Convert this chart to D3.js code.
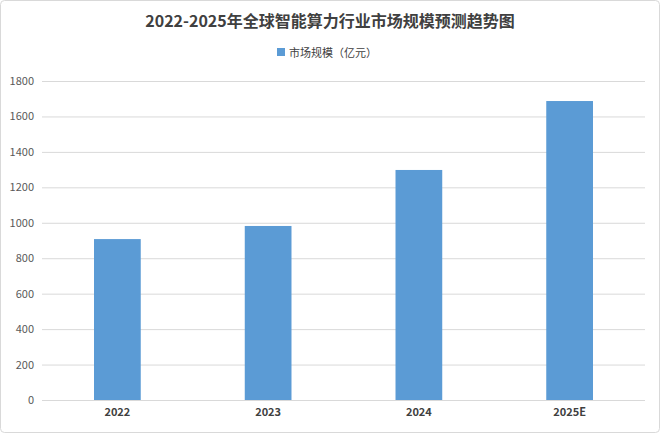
<!DOCTYPE html>
<html><head><meta charset="utf-8">
<script src="https://cdn.jsdelivr.net/npm/d3@7"></script>
<style>body{margin:0;background:#fff}</style>
</head><body>
<div id="chart"></div>
<script>
const categories = ['2022', '2023', '2024', '2025E'];
const values = [908, 982, 1298, 1687];
const yTicks = [0, 200, 400, 600, 800, 1000, 1200, 1400, 1600, 1800];
const title = '2022-2025年全球智能算力行业市场规模预测趋势图';
const seriesName = '市场规模（亿元）';

const W = 660, H = 433;
const margin = { top: 81, right: 15, bottom: 33, left: 42 };
const font = '"Noto Sans CJK SC", "Liberation Sans", sans-serif';

const svg = d3.select('#chart').append('svg').attr('width', W).attr('height', H);

svg.append('rect').attr('x', 0.5).attr('y', 0.5).attr('width', W - 1).attr('height', H - 1)
  .attr('rx', 4).attr('fill', '#fff').attr('stroke', '#d9d9d9');

const x = d3.scaleBand().domain(categories).range([margin.left, W - margin.right]).paddingInner(0.69).paddingOuter(0.345);
const y = d3.scaleLinear().domain([0, 1800]).range([H - margin.bottom, margin.top]);

svg.append('g').selectAll('line').data(yTicks).enter().append('line')
  .attr('x1', margin.left).attr('x2', W - margin.right)
  .attr('y1', d => y(d) + 0.5).attr('y2', d => y(d) + 0.5)
  .attr('stroke', '#d9d9d9');

svg.append('g').selectAll('text').data(yTicks).enter().append('text')
  .attr('x', 34).attr('y', d => y(d) + 4).attr('text-anchor', 'end')
  .attr('font-size', 11).attr('font-family', font).attr('fill', '#595959').text(d => d);

svg.append('g').selectAll('rect').data(d3.zip(categories, values)).enter().append('rect')
  .attr('x', d => x(d[0])).attr('y', d => y(d[1]))
  .attr('width', x.bandwidth()).attr('height', d => y(0) - y(d[1]))
  .attr('fill', '#5b9bd5');

svg.append('g').selectAll('text').data(categories).enter().append('text')
  .attr('x', d => x(d) + x.bandwidth() / 2).attr('y', H - 17).attr('text-anchor', 'middle')
  .attr('font-size', 11).attr('font-weight', 'bold').attr('font-family', font).attr('fill', '#404040').text(d => d);

svg.append('text').attr('x', W / 2).attr('y', 27).attr('text-anchor', 'middle')
  .attr('font-size', 16).attr('font-weight', 'bold').attr('font-family', font).attr('fill', '#404040').text(title);

svg.append('rect').attr('x', 277).attr('y', 48).attr('width', 8).attr('height', 8).attr('fill', '#5b9bd5');
svg.append('text').attr('x', 289).attr('y', 57).attr('font-size', 11).attr('font-family', font)
  .attr('fill', '#404040').text(seriesName);
</script>
</body></html>
